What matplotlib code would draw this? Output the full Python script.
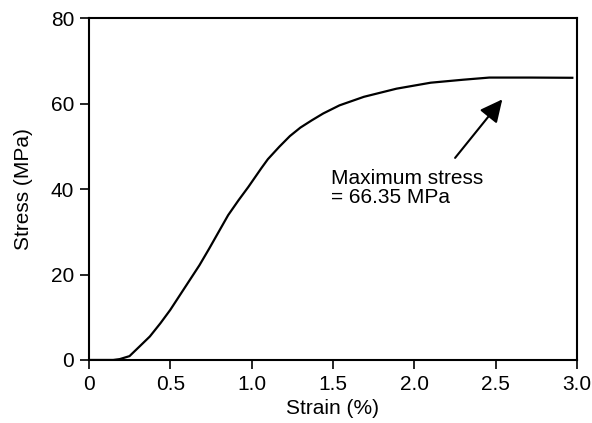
import matplotlib
matplotlib.use("Agg")
import matplotlib.pyplot as plt

plt.rcParams["font.family"] = ["Liberation Sans", "DejaVu Sans"]

# stress-strain curve
strain = [0.0, 0.10, 0.15, 0.19, 0.25, 0.31, 0.375, 0.44, 0.50, 0.56, 0.62, 0.68, 0.74,
          0.795, 0.856, 0.92, 0.98, 1.02, 1.06, 1.10, 1.17, 1.235, 1.30, 1.37, 1.44,
          1.54, 1.69, 1.89, 2.10, 2.30, 2.46, 2.71, 2.97]
stress = [0.0, 0.0, 0.0, 0.2, 0.9, 3.1, 5.5, 8.6, 11.7, 15.2, 18.7, 22.2, 26.1,
          29.8, 33.9, 37.4, 40.5, 42.7, 44.9, 47.0, 49.9, 52.4, 54.4, 56.1, 57.7,
          59.6, 61.6, 63.5, 64.9, 65.6, 66.1, 66.1, 66.05]

max_stress = 66.35
arrow_tail = (2.25, 47.3)
arrow_head = (2.54, 61.0)

xticks = [0, 0.5, 1.0, 1.5, 2.0, 2.5, 3.0]
xtick_labels = ["0", "0.5", "1.0", "1.5", "2.0", "2.5", "3.0"]
yticks = [0, 20, 40, 60, 80]

FS = 15

fig = plt.figure(figsize=(5.92, 4.23), dpi=100)
ax = fig.add_axes([0.150, 0.149, 0.825, 0.808])

ax.plot(strain, stress, color="black", linewidth=1.6, solid_joinstyle="round")

ax.annotate("", xy=arrow_head, xytext=arrow_tail,
            arrowprops=dict(arrowstyle="-|>,head_length=0.76,head_width=0.37",
                            color="black", lw=1.5,
                            mutation_scale=18, shrinkA=0, shrinkB=0))
ax.text(1.49, 44.6, f"Maximum stress\n= {max_stress:.2f} MPa", fontsize=FS,
        ha="left", va="top", linespacing=1.0)

ax.set_xlim(0, 3.0)
ax.set_ylim(0, 80)
ax.set_xticks(xticks)
ax.set_xticklabels(xtick_labels)
ax.set_yticks(yticks)
ax.tick_params(direction="out", length=6.5, width=1.2, labelsize=FS, pad=4)
for s in ax.spines.values():
    s.set_linewidth(1.5)

ax.set_xlabel("Strain (%)", fontsize=FS, labelpad=4)
ax.set_ylabel("Stress (MPa)", fontsize=FS, labelpad=13)

fig.savefig("out.png", dpi=100)
